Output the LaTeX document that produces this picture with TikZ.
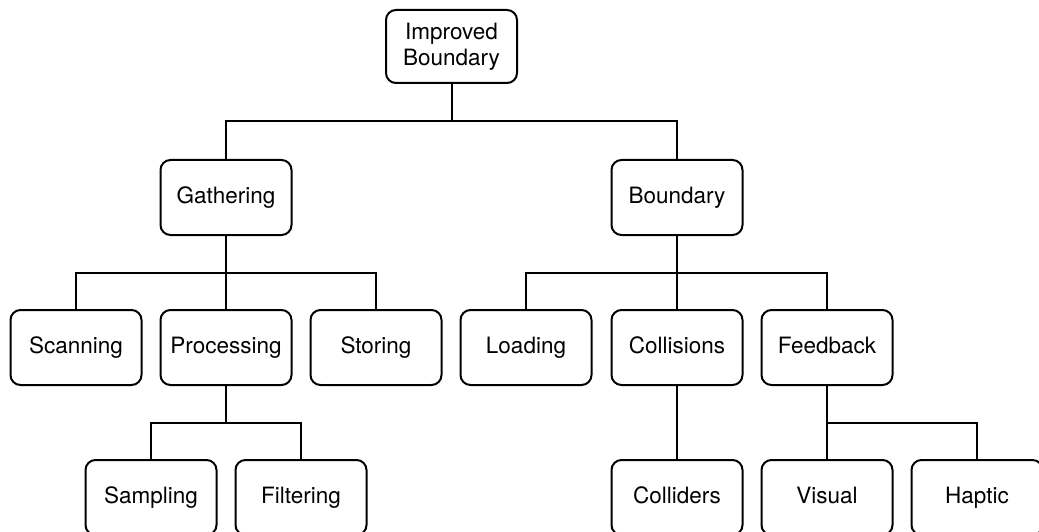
\documentclass[tikz,border=0pt]{standalone}
\usepackage{fontspec}
\setmainfont{TeX Gyre Heros}
\usepackage{tikz}
\tikzstyle{box} = [draw, line width=2pt, rounded corners=10pt, fill=white, minimum width=131pt, minimum height=75pt, align=center, inner sep=0pt, text height=16pt, text depth=5pt]
\tikzstyle{link} = [line width=2pt]

\begin{document}
\begin{tikzpicture}[x=1pt, y=-1pt, font=\fontsize{22.5}{26}\selectfont]
  \useasboundingbox (0,0) rectangle (1039,532);
  \node[box, minimum height=73pt, text height=, text depth=] (root) at (451.5,46.5) {Improved\\Boundary};
  \node[box] (gather) at (226,197.5) {Gathering};
  \node[box] (bound) at (677,197.5) {Boundary};
  \node[box] (scan) at (76,347.5) {Scanning};
  \node[box] (proc) at (226,347.5) {Processing};
  \node[box] (store) at (376,347.5) {Storing};
  \node[box] (load) at (526,347.5) {Loading};
  \node[box] (coll) at (677,347.5) {Collisions};
  \node[box] (feed) at (827,347.5) {Feedback};
  \node[box] (samp) at (151,497.5) {Sampling};
  \node[box] (filt) at (301,497.5) {Filtering};
  \node[box] (colr) at (677,497.5) {Colliders};
  \node[box] (vis) at (827,497.5) {Visual};
  \node[box] (hap) at (977,497.5) {Haptic};
  \coordinate (j0) at (451.5,121.5);
  \coordinate (j1) at (226,272.5);
  \coordinate (j2) at (677,272.5);
  \coordinate (j3) at (226,422.5);
  \coordinate (j4) at (827,422.5);
  \draw[link] (root) -- (j0);
  \draw[link] (gather) |- (j0) -| (bound);
  \draw[link] (gather) -- (j1);
  \draw[link] (scan) |- (j1) -| (store);
  \draw[link] (j1) -- (proc);
  \draw[link] (bound) -- (j2);
  \draw[link] (load) |- (j2) -| (feed);
  \draw[link] (j2) -- (coll);
  \draw[link] (proc) -- (j3);
  \draw[link] (samp) |- (j3) -| (filt);
  \draw[link] (coll) -- (colr);
  \draw[link] (feed) -- (j4) -- (vis);
  \draw[link] (j4) -| (hap);
\end{tikzpicture}
\end{document}
